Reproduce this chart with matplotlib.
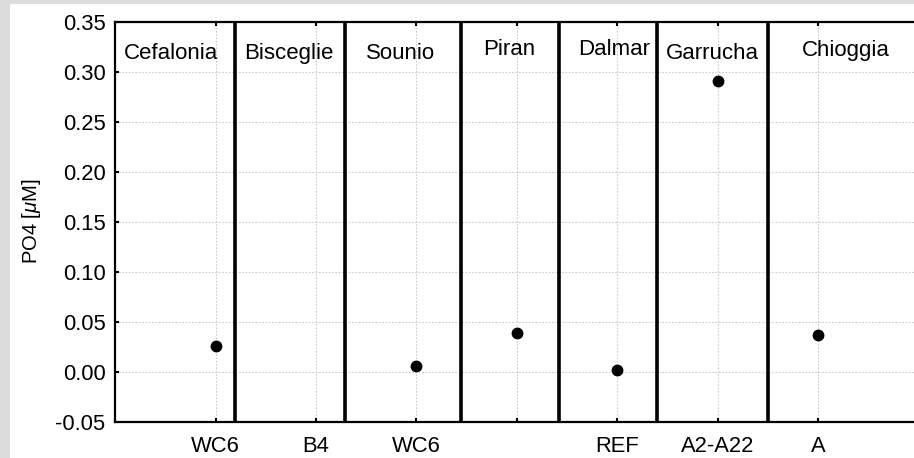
import numpy as np
import matplotlib

matplotlib.use("Agg")
import matplotlib.pyplot as plt
from matplotlib.patches import Rectangle

plt.rcParams["font.family"] = ["Liberation Sans", "DejaVu Sans"]
plt.rcParams["mathtext.fontset"] = "custom"
plt.rcParams["mathtext.rm"] = "Liberation Sans"
plt.rcParams["mathtext.it"] = "Liberation Sans:italic"

# данные
sites = ["Cefalonia", "Bisceglie", "Sounio", "Piran", "Dalmar", "Garrucha", "Chioggia"]
stations = ["WC6", "B4", "WC6", "", "REF", "A2-A22", "A"]
po4 = [0.026, np.nan, 0.006, 0.039, 0.002, 0.291, 0.037]

# раскладка: границы между участками и позиции подписей
borders = [1.19, 2.29, 3.44, 4.42, 5.40, 6.50]
site_x = [0.55, 1.73, 2.84, 3.92, 4.97, 5.95, 7.28]
site_y = [0.313, 0.313, 0.313, 0.3165, 0.3165, 0.313, 0.3155]

W, H = 914, 458
fig = plt.figure(figsize=(W / 100, H / 100), dpi=100)
fig.patch.set_facecolor("#dcdcdc")
fig.patches.append(
    Rectangle((10 / W, 0), 1, 1 - 4 / H, transform=fig.transFigure,
              facecolor="white", edgecolor="none", zorder=-10)
)

ax = fig.add_axes([115.3 / W, 1 - 421.7 / H, 803 / W, 400.2 / H])
ax.set_zorder(1)
x = np.arange(1, len(sites) + 1)
ax.plot(x, po4, "o", color="black", markersize=7.5, zorder=5)

for b in borders:
    ax.axvline(b, color="black", linewidth=2.6, zorder=4)

for name, tx, ty in zip(sites, site_x, site_y):
    ax.text(tx, ty, name, ha="center", va="baseline", fontsize=16, zorder=6)

ax.set_xlim(0, 8)
ax.set_ylim(-0.05, 0.35)
ax.set_xticks(x)
ax.set_xticklabels(stations)
ax.set_yticks(np.arange(-0.05, 0.351, 0.05))
ax.set_yticklabels([f"{v:.2f}" for v in np.arange(-0.05, 0.351, 0.05)])
ax.tick_params(axis="both", direction="in", length=3, width=1.5,
               top=True, right=True, labelsize=15.8)
ax.tick_params(axis="y", pad=7)
ax.tick_params(axis="x", pad=10)
ax.set_ylabel("PO4 [$\\mu$M]", fontsize=14.5, labelpad=9)

ax.grid(True, linestyle=(0, (1.5, 1.5)), color="#cccccc", linewidth=0.8)
ax.set_axisbelow(True)
for s in ax.spines.values():
    s.set_linewidth(1.6)

fig.savefig("out.png", dpi=100, facecolor=fig.get_facecolor())
